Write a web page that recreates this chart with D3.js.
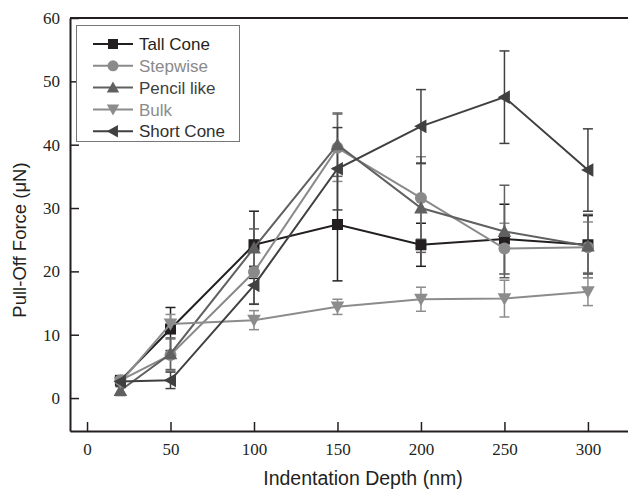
<!DOCTYPE html>
<html>
<head>
<meta charset="utf-8">
<script src="https://cdn.jsdelivr.net/npm/d3@7"></script>
<style>
  body { margin: 0; background: #fff; }
</style>
</head>
<body>
<div id="container"></div>
<script>
const depths = [20, 50, 100, 150, 200, 250, 300]

const tallCone = [2.8, 10.9, 24.2, 27.4, 24.2, 25.1, 24.2]
const tallConeErr = [0.6, 3.4, 5.3, 8.9, 3.4, 5.5, 4.6]

const stepwise = [2.8, 6.8, 19.9, 39.5, 31.6, 23.6, 23.8]
const stepwiseErr = [0.5, 2.5, 5, 5.3, 6.5, 4, 4]

const pencilLike = [1.2, 7, 23.7, 40, 30, 26.3, 24]
const pencilLikeErr = [0.8, 2.5, 3, 5, 7, 7.3, 5]

const bulk = [2.5, 11.7, 12.3, 14.4, 15.6, 15.7, 16.8]
const bulkErr = [0.5, 1.5, 1.5, 1.2, 1.9, 2.9, 2.2]

const shortCone = [2.6, 2.8, 17.8, 36.2, 42.9, 47.5, 36]
const shortConeErr = [0.8, 1.3, 3, 6.5, 5.8, 7.3, 6.5]

const xTicks = [0, 50, 100, 150, 200, 250, 300]
const yTicks = [0, 10, 20, 30, 40, 50, 60]

const series = [
  { name: 'Tall Cone', values: tallCone, err: tallConeErr, color: '#231f20', symbol: 'square' },
  { name: 'Stepwise', values: stepwise, err: stepwiseErr, color: '#8a8a8a', symbol: 'circle' },
  { name: 'Pencil like', values: pencilLike, err: pencilLikeErr, color: '#606060', symbol: 'up' },
  { name: 'Bulk', values: bulk, err: bulkErr, color: '#8c8c8c', symbol: 'down' },
  { name: 'Short Cone', values: shortCone, err: shortConeErr, color: '#404040', symbol: 'left' }
]

const width = 628
const height = 491

const svg = d3.select('#container')
  .append('svg')
  .attr('width', width)
  .attr('height', height)
  .attr('viewBox', [0, 0, width, height])

const x = d3.scaleLinear().domain([-10.2, 324]).range([70, 628])
const y = d3.scaleLinear().domain([-5.2, 60]).range([431, 18])

// marker shapes
function marker(sel, symbol, size) {
  const s = size
  if (symbol === 'square') {
    sel.append('rect').attr('x', -s / 2).attr('y', -s / 2).attr('width', s).attr('height', s)
  } else if (symbol === 'circle') {
    sel.append('circle').attr('r', s / 2 + 0.5)
  } else {
    const h = s * 0.62
    const pts = {
      up: [[0, -h], [h, h * 0.8], [-h, h * 0.8]],
      down: [[0, h], [h, -h * 0.8], [-h, -h * 0.8]],
      left: [[-h, 0], [h * 0.8, -h], [h * 0.8, h]]
    }[symbol]
    sel.append('path').attr('d', 'M' + pts.map(p => p.join(',')).join('L') + 'Z')
  }
}

// frame
svg.append('line')
  .attr('x1', 70).attr('x2', 628).attr('y1', 18).attr('y2', 18)
  .style('stroke', '#231f20').style('stroke-width', 2)

// axes
const xAxis = svg.append('g')
  .attr('transform', `translate(0,${y(-5.2)})`)
  .call(d3.axisBottom(x).tickValues(xTicks).tickSizeInner(-9).tickSizeOuter(0).tickPadding(8))
const yAxis = svg.append('g')
  .attr('transform', `translate(${x(-10.2)},0)`)
  .call(d3.axisLeft(y).tickValues(yTicks).tickSizeInner(-9).tickSizeOuter(0).tickPadding(8))

;[xAxis, yAxis].forEach(a => {
  a.select('.domain').style('stroke', '#231f20').style('stroke-width', 2)
  a.selectAll('.tick line').style('stroke', '#231f20').style('stroke-width', 1.5)
  a.selectAll('.tick text')
    .style('font-family', '"Liberation Serif", "Times New Roman", serif')
    .style('font-size', '17px')
    .style('fill', '#231f20')
})
xAxis.selectAll('.tick text').attr('dy', '0.95em')
yAxis.selectAll('.tick text').attr('dx', '-2px')

svg.append('text')
  .attr('x', 363).attr('y', 485)
  .attr('text-anchor', 'middle')
  .style('font-family', '"Liberation Sans", Arial, sans-serif')
  .style('font-size', '19.5px')
  .style('fill', '#231f20')
  .text('Indentation Depth (nm)')

svg.append('text')
  .attr('transform', 'translate(26,240) rotate(-90)')
  .attr('text-anchor', 'middle')
  .style('font-family', '"Liberation Sans", Arial, sans-serif')
  .style('font-size', '18.5px')
  .style('fill', '#231f20')
  .text('Pull-Off Force (\u03bcN)')

const line = d3.line()
  .x((d, i) => x(depths[i]))
  .y(d => y(d))

// error bars
series.forEach(s => {
  const g = svg.append('g').style('stroke', s.color).style('stroke-width', 1.5)
  s.values.forEach((v, i) => {
    const cx = x(depths[i])
    const lo = y(v - s.err[i]), hi = y(v + s.err[i])
    g.append('line').attr('x1', cx).attr('x2', cx).attr('y1', lo).attr('y2', hi)
    g.append('line').attr('x1', cx - 5).attr('x2', cx + 5).attr('y1', lo).attr('y2', lo)
    g.append('line').attr('x1', cx - 5).attr('x2', cx + 5).attr('y1', hi).attr('y2', hi)
  })
})

// lines and markers
series.forEach(s => {
  svg.append('path')
    .datum(s.values)
    .attr('d', line)
    .style('fill', 'none')
    .style('stroke', s.color)
    .style('stroke-width', 2)

  svg.append('g')
    .selectAll('g')
    .data(s.values)
    .join('g')
    .attr('transform', (d, i) => `translate(${x(depths[i])},${y(d)})`)
    .style('fill', s.color)
    .each(function () { marker(d3.select(this), s.symbol, 11) })
})

// legend
const legend = svg.append('g')
legend.append('rect')
  .attr('x', 76.5).attr('y', 25.5).attr('width', 163).attr('height', 116)
  .style('fill', '#fff')
  .style('stroke', '#777')
  .style('stroke-width', 1)

const legendText = ['#231f20', '#8a8a8a', '#404040', '#8c8c8c', '#303030']

series.forEach((s, i) => {
  const ly = 44 + i * 21.8
  const row = legend.append('g').attr('transform', `translate(0,${ly})`)
  row.append('line')
    .attr('x1', 93).attr('x2', 133).attr('y1', 0).attr('y2', 0)
    .style('stroke', s.color).style('stroke-width', 2)
  const m = row.append('g').attr('transform', 'translate(113,0)').style('fill', s.color)
  marker(m, s.symbol, 10)
  row.append('text')
    .attr('x', 139).attr('y', 0).attr('dy', '0.36em')
    .style('font-family', '"Liberation Sans", Arial, sans-serif')
    .style('font-size', '17px')
    .style('fill', legendText[i])
    .text(s.name)
})
</script>
</body>
</html>
